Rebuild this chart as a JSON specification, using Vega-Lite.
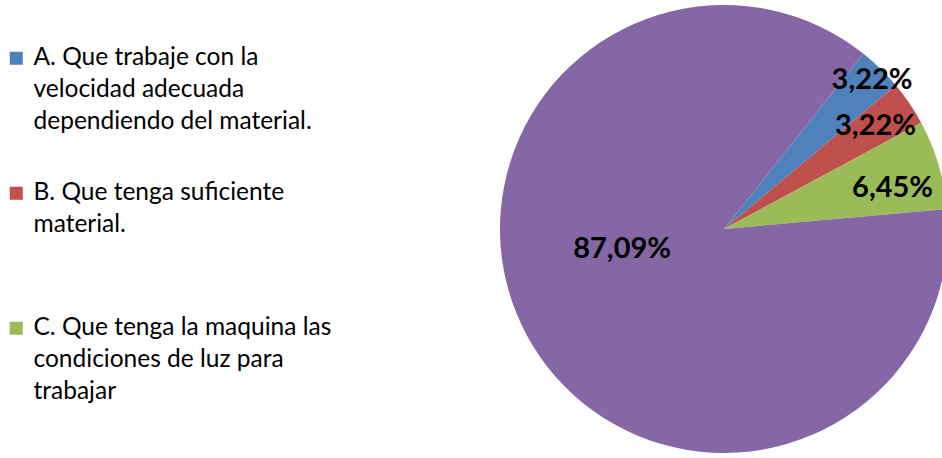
{
  "$schema": "https://vega.github.io/schema/vega-lite/v6.json",
  "autosize": "none",
  "width": 448,
  "height": 458,
  "padding": {"left": 500, "top": 0, "right": 0, "bottom": 0},
  "background": "white",
  "config": {"view": {"stroke": null}},
  "data": {
    "values": [
      {"cat": "A. Que trabaje con la velocidad adecuada dependiendo del material.", "pct": 3.22, "label": "3,22%", "ord": 1},
      {"cat": "B. Que tenga suficiente material.", "pct": 3.22, "label": "3,22%", "ord": 2},
      {"cat": "C. Que tenga la maquina las condiciones de luz para trabajar", "pct": 6.45, "label": "6,45%", "ord": 3},
      {"cat": "D.", "pct": 87.09, "label": "87,09%", "ord": 4}
    ]
  },
  "encoding": {
    "theta": {"field": "pct", "type": "quantitative", "stack": true, "scale": {"range": [0.672, 6.955]}},
    "order": {"field": "ord", "type": "quantitative"}
  },
  "layer": [
    {
      "mark": {"type": "arc", "outerRadius": 224},
      "encoding": {
        "color": {
          "field": "cat",
          "type": "nominal",
          "scale": {
            "domain": ["A. Que trabaje con la velocidad adecuada dependiendo del material.", "B. Que tenga suficiente material.", "C. Que tenga la maquina las condiciones de luz para trabajar", "D."],
            "range": ["#4F81BD", "#C0504D", "#9BBB59", "#8567A5"]
          },
          "legend": {
            "orient": "none",
            "legendX": -496,
            "legendY": 46,
            "title": null,
            "values": ["A. Que trabaje con la velocidad adecuada dependiendo del material.", "B. Que tenga suficiente material.", "C. Que tenga la maquina las condiciones de luz para trabajar"],
            "symbolType": "square",
            "symbolSize": 170,
            "symbolStrokeWidth": 0,
            "labelFont": "Lato",
            "labelFontSize": 24.5,
            "labelColor": "#000000",
            "labelLimit": 500,
            "labelOffset": 5,
            "labelBaseline": "top",
            "rowPadding": 46,
            "labelExpr": "substring(datum.label,0,1)=='A' ? ['A. Que trabaje con la','velocidad adecuada','dependiendo del material.'] : substring(datum.label,0,1)=='B' ? ['B. Que tenga suficiente','material.',''] : ['C. Que tenga la maquina las','condiciones de luz para','trabajar']",
            "encode": {"labels": {"update": {"dy": {"value": -12}, "lineHeight": {"value": 32}}}}
          }
        }
      }
    },
    {
      "mark": {"type": "text", "radius": 212, "dy": 3, "font": "Lato", "fontSize": 29, "fontWeight": "bold", "color": "#000000"},
      "encoding": {"text": {"condition": {"test": "datum.ord == 1", "field": "label"}, "value": ""}}
    },
    {
      "mark": {"type": "text", "radius": 183, "font": "Lato", "fontSize": 29, "fontWeight": "bold", "color": "#000000"},
      "encoding": {"text": {"condition": {"test": "datum.ord == 2", "field": "label"}, "value": ""}}
    },
    {
      "mark": {"type": "text", "radius": 176, "dy": 10, "font": "Lato", "fontSize": 29, "fontWeight": "bold", "color": "#000000"},
      "encoding": {"text": {"condition": {"test": "datum.ord == 3", "field": "label"}, "value": ""}}
    },
    {
      "mark": {"type": "text", "radius": 110, "dy": -32, "dx": -5, "font": "Lato", "fontSize": 29, "fontWeight": "bold", "color": "#000000"},
      "encoding": {"text": {"condition": {"test": "datum.ord == 4", "field": "label"}, "value": ""}}
    }
  ]
}
